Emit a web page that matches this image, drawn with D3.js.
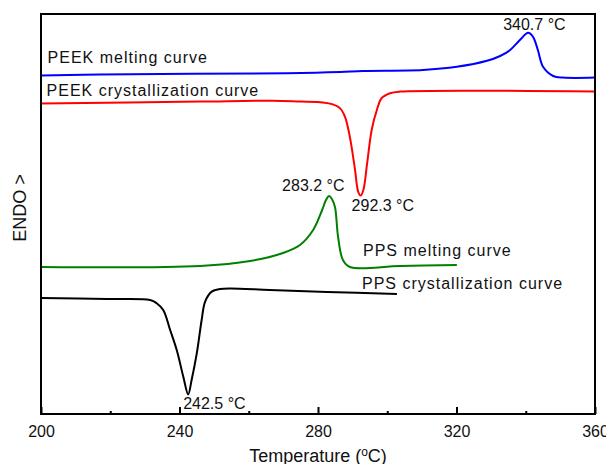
<!DOCTYPE html>
<html>
<head>
<meta charset="utf-8">
<script src="https://cdn.jsdelivr.net/npm/d3@7"></script>
<style>
  body { margin: 0; background: #fff; }
  text { font-family: Arial, "Liberation Sans", sans-serif; fill: #111; }
</style>
</head>
<body>
<script>
// temperature (°C) and signal (arbitrary units, endo up)
let peekMeltT = [200, 217, 271, 286.4, 293, 310.3, 320.1, 328.8, 332.6, 335.5, 338.3, 340.7, 342.1, 343.5, 345, 347.9, 350.8, 360];
let peekMeltV = [84.6, 84.9, 85.2, 85.5, 85.75, 86, 86.8, 88.3, 89.5, 91, 93.5, 95.3, 94.3, 91, 86.8, 84.5, 84.1, 84.1];

let peekCrysT = [200, 245.9, 267, 274.8, 281.4, 284.3, 286.4, 287.8, 288.8, 289.7, 290.7, 291.6, 292.3, 293.1, 294.2, 295.5, 297, 298.4, 300.8, 303.7, 360];
let peekCrysV = [77.6, 78.1, 78.3, 78.1, 77.9, 77.4, 76.4, 74.3, 71, 66.8, 61, 55.6, 54.6, 56, 62.75, 71, 76, 79, 80.2, 80.6, 80.6];

let ppsMeltT = [200, 245.9, 260.4, 269.9, 274.8, 278.6, 281.2, 282.3, 283.2, 284, 284.9, 285.8, 287.2, 289.2, 303.7, 320.1];
let ppsMeltV = [36.75, 37, 38.25, 40.25, 42.25, 46, 51, 53.5, 54.5, 53.75, 51.75, 44.25, 38.5, 36.75, 37, 37.25];

let ppsCrysT = [200, 219.1, 231.5, 233.4, 235.3, 237.3, 239.2, 241.1, 242.5, 243.5, 245, 246.4, 247.4, 249.3, 251.7, 254.6, 266.1, 282.6, 302.8];
let ppsCrysV = [29, 28.75, 28.5, 27.7, 26, 21, 16, 9.3, 4.9, 8.5, 15.2, 23.5, 28.1, 30.6, 31.25, 31.4, 31, 30.5, 30];

let names = ["PEEK melting curve", "PEEK crystallization curve", "PPS melting curve", "PPS crystallization curve"];
let peakLabels = ["340.7 °C", "292.3 °C", "283.2 °C", "242.5 °C"];
let majorTicks = [200, 240, 280, 320, 360];
let minorTicks = [220, 260, 300, 340];

let width = 606, height = 464;
let margin = { left: 41, right: 11, top: 14, bottom: 50 };

let svg = d3.select("body").append("svg")
    .attr("width", width).attr("height", height);

let x = d3.scaleLinear().domain([200, 360]).range([margin.left, width - margin.right]);
let y = d3.scaleLinear().domain([0, 100]).range([height - margin.bottom, margin.top]);

let line = d3.line()
    .x((d) => x(d[0]))
    .y((d) => y(d[1]))
    .curve(d3.curveCatmullRom.alpha(0.5));

let series = [
    { t: peekMeltT, v: peekMeltV, color: "#0000ff" },
    { t: peekCrysT, v: peekCrysV, color: "#ff0000" },
    { t: ppsMeltT, v: ppsMeltV, color: "#008000" },
    { t: ppsCrysT, v: ppsCrysV, color: "#000000" }
];

series.forEach((s) => {
    svg.append("path")
        .attr("d", line(d3.zip(s.t, s.v)))
        .attr("fill", "none")
        .attr("stroke", s.color)
        .attr("stroke-width", 2)
        .attr("stroke-linejoin", "round");
});

// axis with inward ticks
let axisG = svg.append("g").attr("transform", `translate(0,${y(0)})`);
axisG.call(d3.axisBottom(x).tickValues(majorTicks).tickFormat(d3.format("d"))
    .tickSizeInner(-7).tickSizeOuter(0).tickPadding(12));
axisG.selectAll("text").attr("font-size", 16).attr("font-family", "Arial, 'Liberation Sans', sans-serif").attr("fill", "#111");
axisG.selectAll("line").attr("stroke", "#000").attr("stroke-width", 2);
axisG.select(".domain").remove();

let minorG = svg.append("g").attr("transform", `translate(0,${y(0)})`);
minorG.call(d3.axisBottom(x).tickValues(minorTicks).tickFormat("").tickSizeInner(-3).tickSizeOuter(0));
minorG.selectAll("line").attr("stroke", "#000").attr("stroke-width", 2);
minorG.select(".domain").remove();

// frame
svg.append("rect")
    .attr("x", x(200)).attr("y", y(100))
    .attr("width", x(360) - x(200)).attr("height", y(0) - y(100))
    .attr("fill", "none").attr("stroke", "#000").attr("stroke-width", 2);

// axis titles
let xt = svg.append("text")
    .attr("x", (x(200) + x(360)) / 2).attr("y", 462)
    .attr("text-anchor", "middle").attr("font-size", 18);
xt.append("tspan").text("Temperature (");
xt.append("tspan").attr("font-size", 12).attr("dy", -6).text("o");
xt.append("tspan").attr("dy", 6).text("C)");

svg.append("text")
    .attr("transform", `translate(26,${y(51.5)}) rotate(-90)`)
    .attr("text-anchor", "middle").attr("font-size", 18)
    .text("ENDO >");

// curve names
let nameAt = [[201.9, 87.75], [201.6, 79.5], [293, 39.5], [292.7, 31.25]];
names.forEach((n, i) => {
    svg.append("text")
        .attr("x", x(nameAt[i][0])).attr("y", y(nameAt[i][1]))
        .attr("font-size", 16).attr("letter-spacing", 1)
        .text(n);
});

// peak labels, positioned from each curve's extreme point
series.forEach((s, i) => {
    let idx = (i % 2 === 0) ? d3.maxIndex(s.v) : d3.minIndex(s.v);
    let px = x(s.t[idx]), py = y(s.v[idx]);
    let off = [[-25, -3], [-9, 15], [-47, -5], [-5, 15]][i];
    svg.append("text")
        .attr("x", px + off[0]).attr("y", py + off[1])
        .attr("font-size", 16)
        .text(peakLabels[i]);
});
</script>
</body>
</html>
